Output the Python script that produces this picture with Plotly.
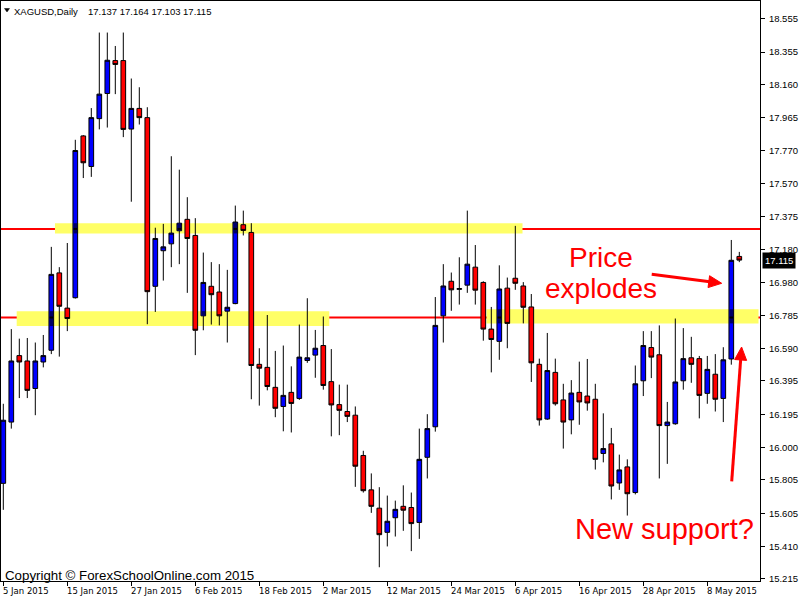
import plotly.graph_objects as go
import pandas as pd

# ---------------- data ----------------
dates = [d for d in pd.bdate_range("2015-01-05", "2015-05-14") if d != pd.Timestamp("2015-04-03")]

opens = [15.785, 16.150, 16.546, 16.514, 16.350, 16.508, 16.578, 17.039, 16.829, 16.891,
         17.855, 17.673, 17.958, 18.108, 18.304, 18.304, 17.896, 18.019, 17.964, 16.959,
         17.171, 17.212, 17.290, 17.358, 17.262, 16.783, 16.959, 16.925, 16.811, 16.856,
         17.326, 17.280, 16.494, 16.476, 16.357, 16.243, 16.327, 16.291, 16.517, 16.549,
         16.606, 16.391, 16.254, 16.213, 16.191, 15.951, 15.746, 15.637, 15.493, 15.580,
         15.648, 15.641, 15.552, 15.940, 16.122, 16.783, 16.989, 16.941, 16.966, 17.073,
         16.982, 16.704, 16.631, 16.948, 17.007, 16.961, 16.836, 16.494, 16.168, 16.446,
         16.282, 16.163, 16.327, 16.305, 16.286, 15.963, 16.020, 15.787, 15.883, 15.730,
         16.396, 16.594, 16.551, 16.129, 16.140, 16.396, 16.533, 16.528, 16.321, 16.435,
         16.291, 16.526, 17.137]
highs = [16.259, 16.704, 16.647, 16.651, 16.624, 16.669, 17.194, 17.073, 17.217, 17.832,
         17.860, 18.021, 18.471, 18.471, 18.391, 18.471, 18.197, 18.145, 18.026, 17.308,
         17.331, 17.734, 17.654, 17.490, 17.365, 17.160, 17.103, 17.091, 17.057, 17.440,
         17.410, 17.335, 16.590, 16.788, 16.574, 16.606, 16.482, 16.731, 16.888, 16.699,
         16.779, 16.585, 16.373, 16.373, 16.243, 15.979, 15.844, 15.762, 15.712, 15.682,
         15.773, 15.730, 16.111, 16.197, 16.895, 17.091, 17.041, 17.132, 17.410, 17.205,
         16.989, 16.836, 17.084, 17.011, 17.319, 16.984, 16.913, 16.528, 16.681, 16.528,
         16.378, 16.400, 16.510, 16.526, 16.378, 16.202, 16.115, 15.956, 15.928, 16.487,
         16.692, 16.692, 16.726, 16.270, 16.767, 16.710, 16.658, 16.544, 16.544, 16.555,
         16.596, 17.235, 17.164]
lows = [15.627, 16.111, 16.293, 16.293, 16.191, 16.476, 16.555, 16.540, 16.692, 16.886,
        17.604, 17.611, 17.894, 17.905, 18.104, 17.848, 17.463, 17.923, 16.733, 16.806,
        16.993, 17.073, 17.091, 16.920, 16.549, 16.697, 16.731, 16.726, 16.624, 16.852,
        17.262, 16.286, 16.248, 16.339, 16.179, 16.095, 16.088, 16.282, 16.503, 16.414,
        16.343, 16.065, 16.072, 16.150, 15.764, 15.730, 15.609, 15.285, 15.409, 15.468,
        15.502, 15.381, 15.454, 15.814, 16.093, 16.624, 16.813, 16.850, 16.920, 16.850,
        16.635, 16.446, 16.521, 16.590, 16.938, 16.738, 16.389, 16.129, 16.163, 16.248,
        15.992, 16.077, 16.134, 16.218, 15.867, 15.910, 15.689, 15.746, 15.593, 15.719,
        16.305, 16.412, 15.814, 15.901, 16.134, 16.343, 16.384, 16.172, 16.259, 16.213,
        16.150, 16.492, 17.103]
closes = [16.161, 16.514, 16.508, 16.339, 16.514, 16.546, 17.030, 16.840, 16.767, 17.768,
          17.695, 17.964, 18.104, 18.306, 18.281, 17.894, 18.019, 17.964, 16.927, 17.244,
          17.194, 17.276, 17.335, 17.244, 16.697, 16.982, 16.909, 16.783, 16.834, 17.342,
          17.292, 16.487, 16.471, 16.362, 16.232, 16.309, 16.261, 16.537, 16.533, 16.590,
          16.368, 16.252, 16.220, 16.184, 15.887, 15.741, 15.648, 15.479, 15.559, 15.630,
          15.625, 15.545, 15.928, 16.111, 16.726, 16.961, 16.938, 16.945, 17.091, 16.936,
          16.704, 16.642, 16.943, 16.738, 16.977, 16.834, 16.503, 16.163, 16.457, 16.259,
          16.150, 16.323, 16.270, 16.264, 15.928, 15.992, 15.769, 15.865, 15.723, 16.378,
          16.606, 16.537, 16.129, 16.150, 16.389, 16.528, 16.494, 16.309, 16.464, 16.286,
          16.521, 17.114, 17.115]

date_tick_labels = ["5 Jan 2015", "15 Jan 2015", "27 Jan 2015", "6 Feb 2015", "18 Feb 2015",
                    "2 Mar 2015", "12 Mar 2015", "24 Mar 2015", "6 Apr 2015", "16 Apr 2015",
                    "28 Apr 2015", "8 May 2015"]
price_ticks = [18.555, 18.355, 18.160, 17.965, 17.770, 17.570, 17.375, 17.180, 16.980,
               16.785, 16.590, 16.395, 16.195, 16.000, 15.805, 15.605, 15.410, 15.215]

symbol = "XAGUSD,Daily"
last_ohlc = [17.137, 17.164, 17.103, 17.115]
last_price = 17.115
resistance_level = 17.301
support_level = 16.773
# zones: (first bar, last bar, low price, high price)
zones = [(6.46, 64.9, 17.274, 17.335),
         (1.675, 40.75, 16.722, 16.811),
         (60.4, 94.4, 16.738, 16.822)]

# ---------------- geometry ----------------
W, H = 800, 600
ML, MR, MT, MB = 1, 40, 1, 19
PW, PH = W - ML - MR, H - MT - MB
BAR_PX = 8.0
FIRST_BAR_PX = 3.3
x0 = (ML - FIRST_BAR_PX) / BAR_PX
x1 = x0 + PW / BAR_PX
y_range = [15.203, 18.659]


def px(xp):
    return (xp - ML) / PW


def py(yp):
    return (H - MB - yp) / PH


n = len(opens)
xs = list(range(n))
hover = [d.strftime("%d %b %Y") for d in dates]

fig = go.Figure()
fig.add_trace(go.Candlestick(
    x=xs, open=opens, high=highs, low=lows, close=closes,
    increasing=dict(fillcolor="#0000FF", line=dict(color="black", width=1)),
    decreasing=dict(fillcolor="#FF0000", line=dict(color="black", width=1)),
    whiskerwidth=0, text=hover, showlegend=False,
))

shapes = []
YELLOW = "#FFFF66"
for (a, b, lo, hi) in zones:
    shapes.append(dict(type="rect", xref="x", yref="y", x0=a, x1=b, y0=lo, y1=hi,
                       fillcolor=YELLOW, line=dict(width=0), layer="below"))
for lvl in (resistance_level, support_level):
    shapes.append(dict(type="line", xref="paper", yref="y", x0=0, x1=1, y0=lvl, y1=lvl,
                       line=dict(color="#FF0000", width=2), layer="below"))

# multiply-blend look: blue bodies crossing the yellow zones / red lines turn dark
half = 0.22
for i in range(n):
    if closes[i] > opens[i]:
        for (a, b, lo, hi) in zones:
            if a <= i <= b:
                l2, h2 = max(opens[i], lo), min(closes[i], hi)
                if h2 > l2:
                    shapes.append(dict(type="rect", xref="x", yref="y", x0=i - half, x1=i + half,
                                       y0=l2, y1=h2, fillcolor="#000066", line=dict(width=0),
                                       layer="above"))
        for lvl in (resistance_level, support_level):
            if opens[i] < lvl < closes[i]:
                shapes.append(dict(type="rect", xref="x", yref="y", x0=i - half, x1=i + half,
                                   y0=lvl - 0.006, y1=lvl + 0.006, fillcolor="#000000",
                                   line=dict(width=0), layer="above"))


def arrow(tail, tip, head_len=13, head_half=6, width=3, color="#FF0000"):
    tx, ty = tail
    hx, hy = tip
    dx, dy = hx - tx, hy - ty
    L = (dx * dx + dy * dy) ** 0.5
    ux, uy = dx / L, dy / L
    bx, by = hx - head_len * ux, hy - head_len * uy
    pxp, pyp = -uy, ux
    c1 = (bx + head_half * pxp, by + head_half * pyp)
    c2 = (bx - head_half * pxp, by - head_half * pyp)
    out = [dict(type="line", xref="paper", yref="paper", x0=px(tx), y0=py(ty),
                x1=px(bx + ux), y1=py(by + uy), line=dict(color=color, width=width), layer="above")]
    path = "M {},{} L {},{} L {},{} Z".format(px(hx), py(hy), px(c1[0]), py(c1[1]), px(c2[0]), py(c2[1]))
    out.append(dict(type="path", xref="paper", yref="paper", path=path, fillcolor=color,
                    line=dict(color=color, width=1), layer="above"))
    return out


shapes += arrow((651.7, 274.3), (721.7, 283.3))
shapes += arrow((731.7, 481.4), (741.6, 347.0))

# header triangle
tri = "M {},{} L {},{} L {},{} Z".format(px(4.5), py(8.5), px(9.5), py(8.5), px(7.0), py(12.0))
shapes.append(dict(type="path", xref="paper", yref="paper", path=tri, fillcolor="black",
                   line=dict(color="black", width=0.5), layer="above"))

SMALL = dict(family="DejaVu Sans, Verdana, sans-serif", size=8.5, color="black")
AXFONT = dict(family="Liberation Sans, Arial, sans-serif", size=9.5, color="black")
ann = []
ann.append(dict(text=symbol, xref="paper", yref="paper", x=px(11.7), y=py(4.0),
                xanchor="left", yanchor="top", showarrow=False, font=AXFONT))
ann.append(dict(text=" ".join(f"{v:.3f}" for v in last_ohlc), xref="paper", yref="paper",
                x=px(86.3), y=py(4.0), xanchor="left", yanchor="top", showarrow=False, font=AXFONT))
ann.append(dict(text="Copyright © ForexSchoolOnline.com 2015", xref="paper", yref="paper",
                x=px(3), y=py(566.0), xanchor="left", yanchor="top", showarrow=False,
                font=dict(family="Liberation Sans, Arial, sans-serif", size=13.3, color="black")))
RED_BIG = dict(family="Liberation Sans, Arial, sans-serif", size=28, color="#FF0000")
ann.append(dict(text="Price", xref="paper", yref="paper", x=px(600.5), y=py(240.4),
                xanchor="center", yanchor="top", showarrow=False, font=RED_BIG))
ann.append(dict(text="explodes", xref="paper", yref="paper", x=px(600.5), y=py(271.4),
                xanchor="center", yanchor="top", showarrow=False, font=RED_BIG))
ann.append(dict(text="New support?", xref="paper", yref="paper", x=px(664), y=py(511.1),
                xanchor="center", yanchor="top", showarrow=False,
                font=dict(family="Liberation Sans, Arial, sans-serif", size=29, color="#FF0000")))
for k, lab in enumerate(date_tick_labels):
    ann.append(dict(text=lab, xref="x", yref="paper", x=k * 8, y=0, xanchor="left", yanchor="top",
                    xshift=-2, yshift=-3, showarrow=False, font=SMALL))
ann.append(dict(text=f"{last_price:.3f}", xref="paper", yref="y", x=px(762), y=last_price,
                xanchor="left", yanchor="middle", showarrow=False, bgcolor="black", borderpad=2,
                font=dict(family="Liberation Sans, Arial, sans-serif", size=9.5, color="white")))

fig.update_layout(
    width=W, height=H,
    margin=dict(l=ML, r=MR, t=MT, b=MB, pad=0),
    paper_bgcolor="white", plot_bgcolor="white",
    boxgap=0.25, boxgroupgap=0.22,
    shapes=shapes, annotations=ann,
    xaxis=dict(range=[x0, x1], tickmode="array", tickvals=[k * 8 for k in range(len(date_tick_labels))],
               showticklabels=False, ticks="outside", ticklen=4, tickcolor="black", tickwidth=1,
               showline=True, mirror=True, linecolor="black", linewidth=1, showgrid=False,
               zeroline=False, rangeslider=dict(visible=False), fixedrange=True),
    yaxis=dict(range=y_range, side="right", tickmode="array", tickvals=price_ticks,
               ticktext=[f"{v:.3f}" for v in price_ticks], ticks="outside", ticklen=4,
               tickcolor="black", tickwidth=1, tickfont=AXFONT, ticklabelstandoff=2,
               showline=True, mirror=True,
               linecolor="black", linewidth=1, showgrid=False, zeroline=False, fixedrange=True),
)

fig.write_html("out.html", config={"displayModeBar": False},
               post_script="document.body.style.margin='0px';document.body.style.padding='0px';")
